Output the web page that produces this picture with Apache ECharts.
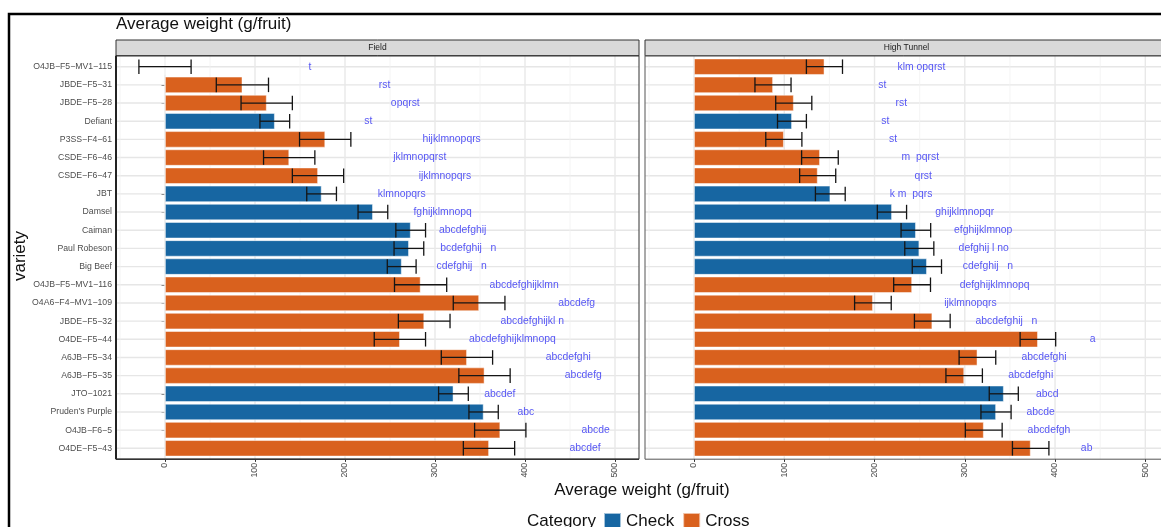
<!DOCTYPE html>
<html><head><meta charset="utf-8">
<script src="https://cdn.jsdelivr.net/npm/echarts@6/dist/echarts.min.js"></script>
<style>html,body{margin:0;padding:0;background:#fff}#c{width:1161px;height:527px}</style>
</head><body><div id="c"></div>
<script>
// ---------------- DATA ----------------
const varieties = ['O4JB-F5-MV1-115','JBDE-F5-31','JBDE-F5-28','Defiant','P3SS-F4-61','CSDE-F6-46','CSDE-F6-47','JBT','Damsel','Caiman','Paul Robeson','Big Beef','O4JB-F5-MV1-116','O4A6-F4-MV1-109','JBDE-F5-32','O4DE-F5-44','A6JB-F5-34','A6JB-F5-35','JTO-1021',"Pruden's Purple",'O4JB-F6-5','O4DE-F5-43'];
const categoryOf = ['Cross','Cross','Cross','Check','Cross','Cross','Cross','Check','Check','Check','Check','Check','Cross','Cross','Cross','Cross','Cross','Cross','Check','Check','Cross','Cross'];
const panels = ['Field','High Tunnel'];

const fieldMean = [0,86,113,122,178,138,170,174,231,273,271,263,284,349,288,261,335.5,355,320.5,354,372.5,360];
const fieldSE   = [29,29,28.5,16.5,28.5,28.5,28.5,16.5,16.5,16.5,16.5,16,29,28.7,28.7,28.5,28.5,28.5,16.5,16.3,28.5,28.5];
const fieldLetters = ['t','rst','opqrst','st','hijklmnopqrs','jklmnopqrst','ijklmnopqrs','klmnopqrs','fghijklmnopq','abcdefghij','bcdefghij   n','cdefghij   n','abcdefghijklmn','abcdefg','abcdefghijkl n','abcdefghijklmnopq','abcdefghi','abcdefg','abcdef','abc','abcde','abcdef'];
const fieldLetterX = [161,244,267,226,318.5,283,311,263,308.5,330.7,337,329.6,399,457.4,408,386,448,464.8,372,401,478.5,466.7];

const htMean = [144.5,87.5,110.5,108.5,99.5,139.5,137,151,219.3,245.8,249.6,258,241.6,198.2,264,381,314,299.3,343.2,334.6,321,373];
const htSE   = [20,20,20,16,20,20.3,20,16.5,16.2,16.4,16.1,16.2,20.4,20.3,19.8,19.7,20.3,20.2,16.1,16.7,20.4,20.2];
const htLetters = ['klm opqrst','st','rst','st','st','m  pqrst','qrst','k m  pqrs','ghijklmnopqr','efghijklmnop','defghij l no','cdefghij   n','defghijklmnopq','ijklmnopqrs','abcdefghij   n','a','abcdefghi','abcdefghi','abcd','abcde','abcdefgh','ab'];
const htLetterX = [252,208.7,229.7,212,220.5,250.8,254,240.5,300,320.4,321,325.6,333,306.3,346,441.7,387.7,373,391.4,384,393.3,435];

const xTicks = [0,100,200,300,400,500];
const xMinorTicks = [-50,50,150,250,350,450];
const legendCategories = ['Check','Cross'];

// ---------------- STYLE / LAYOUT ----------------
const FONT = 'Liberation Sans, Arial, sans-serif';
const COLORS = {Check:'#1766a2', Cross:'#d9611e'};
const LETTER_COLOR = '#5757f4';
const gridTop = 57.6, gridH = 399.8;
const panelTop = 55.8, panelBottom = 459.2;
const layout = [
  {gridLeft:120, gridW:495, panelLeft:116, panelRight:639},
  {gridLeft:648.9, gridW:496.4, panelLeft:645, panelRight:1168}
];

const chart = echarts.init(document.getElementById('c'), null, {renderer:'canvas'});

const grids = layout.map(l => ({left:l.gridLeft, top:gridTop, width:l.gridW, height:gridH, containLabel:false}));

const xAxes = layout.map((l,gi) => ({
  type:'value', gridIndex:gi, min:-50, max:500, offset:1.5,
  splitLine:{show:false}, axisLine:{show:false},
  axisTick:{show:true, customValues:xTicks, length:3, lineStyle:{color:'#333', width:1}},
  axisLabel:{show:true, customValues:xTicks, rotate:90, fontSize:8.8, color:'#4d4d4d', margin:4, fontFamily:FONT}
}));

const yAxes = layout.map((l,gi) => ({
  type:'category', gridIndex:gi, data:varieties, inverse:true, offset: gi===0 ? 4 : 0,
  axisLine:{show:false}, splitLine:{show:false},
  axisTick:{show:gi===0, alignWithLabel:true, length:3.5, lineStyle:{color:'#333'}},
  axisLabel:{show:gi===0, fontSize:8.7, color:'#4d4d4d', margin:4, fontFamily:FONT,
    formatter: v => v.replace(/-/g,'\u2212')}
}));

function hGridRender(gi){
  return function(params, api){
    const y = api.coord([0, api.value(1)])[1];
    return {type:'line', shape:{x1:layout[gi].panelLeft, y1:y, x2:layout[gi].panelRight, y2:y},
      style:{stroke:'#e6e6e6', lineWidth:1.4}};
  };
}
function vGridRender(major){
  return function(params, api){
    const x = api.coord([api.value(0), 0])[0];
    return {type:'line', shape:{x1:x, y1:panelTop, x2:x, y2:panelBottom},
      style:{stroke: major ? '#e8e8e8' : '#f1f1f1', lineWidth: major ? 1.4 : 0.8}};
  };
}
function errRender(params, api){
  const idx = api.value(2);
  const p1 = api.coord([api.value(0), idx]);
  const p2 = api.coord([api.value(1), idx]);
  const h = api.size([0,1])[1]*0.4;
  const st = {stroke:'#151515', lineWidth:1.3};
  return {type:'group', children:[
    {type:'line', shape:{x1:p1[0],y1:p1[1],x2:p2[0],y2:p2[1]}, style:st},
    {type:'line', shape:{x1:p1[0],y1:p1[1]-h,x2:p1[0],y2:p1[1]+h}, style:st},
    {type:'line', shape:{x1:p2[0],y1:p2[1]-h,x2:p2[0],y2:p2[1]+h}, style:st}
  ]};
}
function letterRender(letters){
  return function(params, api){
    const p = api.coord([api.value(0), api.value(1)]);
    return {type:'text', x:p[0], y:p[1], style:{text:letters[params.dataIndex], fill:LETTER_COLOR,
      fontSize:10.4, fontFamily:FONT, align:'center', verticalAlign:'middle'}};
  };
}

const means = [fieldMean, htMean], ses = [fieldSE, htSE];
const letters = [fieldLetters, htLetters], letterXs = [fieldLetterX, htLetterX];
const series = [];
[0,1].forEach(gi => {
  series.push({type:'custom', xAxisIndex:gi, yAxisIndex:gi, z:1, silent:true, renderItem:hGridRender(gi),
    data: varieties.map((v,i)=>[0,i]), encode:{x:0,y:1}});
  series.push({type:'custom', xAxisIndex:gi, yAxisIndex:gi, z:1, silent:true, renderItem:vGridRender(false),
    data: xMinorTicks.map(v=>[v,0]), encode:{x:0,y:1}});
  series.push({type:'custom', xAxisIndex:gi, yAxisIndex:gi, z:1, silent:true, renderItem:vGridRender(true),
    data: xTicks.map(v=>[v,0]), encode:{x:0,y:1}});
  legendCategories.forEach(cat => {
    series.push({type:'bar', name:cat, xAxisIndex:gi, yAxisIndex:gi, z:2, barWidth:'90%', barGap:'-100%',
      itemStyle:{color:COLORS[cat], borderColor:'rgba(255,255,255,0.6)', borderWidth:0.8},
      data: means[gi].map((m,i)=> categoryOf[i]===cat ? m : '-')});
  });
  series.push({type:'custom', xAxisIndex:gi, yAxisIndex:gi, z:3, silent:true, renderItem:errRender,
    data: means[gi].map((m,i)=>[m-ses[gi][i], m+ses[gi][i], i]), encode:{x:[0,1], y:2}});
  series.push({type:'custom', xAxisIndex:gi, yAxisIndex:gi, z:4, silent:true, renderItem:letterRender(letters[gi]),
    data: letterXs[gi].map((x,i)=>[x,i]), encode:{x:0,y:1}});
});

const graphics = [];
// outer frame
graphics.push({type:'rect', shape:{x:9, y:14, width:1300, height:700}, style:{fill:'none', stroke:'#000', lineWidth:2.5}, z:100});
layout.forEach((l,gi) => {
  graphics.push({type:'rect', shape:{x:l.panelLeft, y:40, width:l.panelRight-l.panelLeft, height:panelTop-40},
    style:{fill:'#d9d9d9', stroke:'#333', lineWidth:1}, z:50});
  graphics.push({type:'text', x:(l.panelLeft+l.panelRight)/2, y:48,
    style:{text:panels[gi], fill:'#1a1a1a', fontSize:8.5, fontFamily:FONT, align:'center', verticalAlign:'middle'}, z:51});
  graphics.push({type:'rect', shape:{x:l.panelLeft, y:panelTop, width:l.panelRight-l.panelLeft, height:panelBottom-panelTop},
    style:{fill:'none', stroke: gi===0 ? '#333' : '#555', lineWidth:1}, z:50});
});
// darker axis lines on first panel
graphics.push({type:'line', shape:{x1:116, y1:panelTop, x2:116, y2:panelBottom}, style:{stroke:'#222', lineWidth:2}, z:52});
graphics.push({type:'line', shape:{x1:116, y1:panelBottom, x2:639, y2:panelBottom}, style:{stroke:'#333', lineWidth:1.5}, z:52});
// axis titles
graphics.push({type:'text', x:642, y:490, style:{text:'Average weight (g/fruit)', fill:'#111', fontSize:17, fontFamily:FONT, align:'center', verticalAlign:'middle'}});
graphics.push({type:'text', x:20, y:256, rotation:Math.PI/2, style:{text:'variety', fill:'#111', fontSize:17, fontFamily:FONT, align:'center', verticalAlign:'middle'}});
graphics.push({type:'text', x:527, y:521, style:{text:'Category', fill:'#111', fontSize:17, fontFamily:FONT, align:'left', verticalAlign:'middle'}});

chart.setOption({
  animation:false,
  backgroundColor:'#fff',
  title:{text:'Average weight (g/fruit)', left:116, top:16, padding:0,
    textStyle:{fontSize:17, fontWeight:'normal', color:'#111', fontFamily:FONT}},
  legend:{data:legendCategories, left:603, top:512, padding:0, itemWidth:17, itemHeight:17, itemGap:8, icon:'rect',
    textStyle:{fontSize:17, color:'#111', fontFamily:FONT}},
  grid:grids, xAxis:xAxes, yAxis:yAxes, series:series, graphic:graphics
});
</script></body></html>
